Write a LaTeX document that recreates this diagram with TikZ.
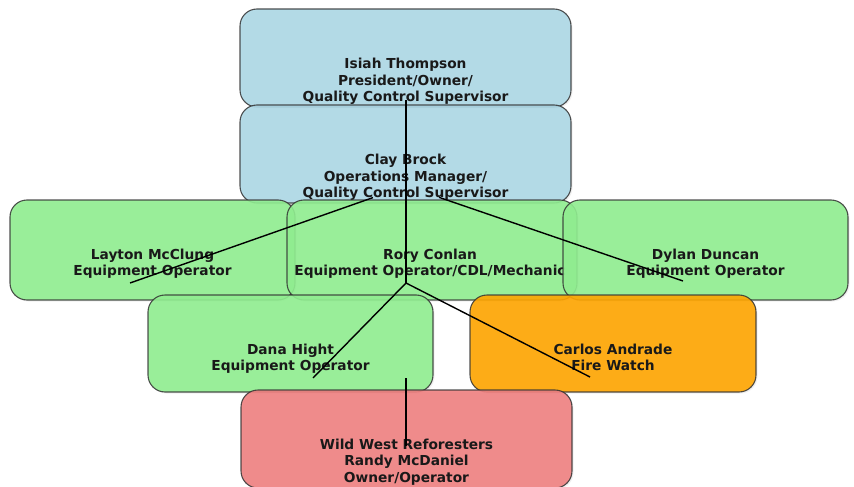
\documentclass[tikz,border=0pt]{standalone}
\usepackage{fontspec}
\setmainfont{DejaVu Sans}
\usetikzlibrary{positioning, shadows}

\definecolor{bosslight}{RGB}{173,216,230}
\definecolor{crewgreen}{RGB}{144,238,144}
\definecolor{watchorange}{RGB}{255,165,0}
\definecolor{subcoral}{RGB}{240,128,128}

\begin{document}
\begin{tikzpicture}[
    x=1pt, y=-1pt,
    font=\fontsize{13.75}{16.5}\selectfont\bfseries,
    % rounded box behind each name
    orgbox/.style={rectangle, draw=black!80, line width=1.1pt, rounded corners=17pt, fill opacity=0.9, draw opacity=0.85, minimum height=98pt, inner sep=0pt, drop shadow={opacity=0.12, shadow xshift=1.5pt, shadow yshift=-1.5pt}},
    namelabel/.style={align=center, anchor=north, inner sep=0pt, text=black!90},
    link/.style={line width=1.4pt, black}
]
\useasboundingbox (0,0) rectangle (854,487);

% top level
\node[orgbox, fill=bosslight, minimum width=331pt] (isiah) at (405.5,58) {};
\node[namelabel] (isiah-txt) at ([yshift=-49.5pt]isiah.north) {Isiah Thompson\\President/Owner/\\Quality Control Supervisor};

\node[orgbox, fill=bosslight, minimum width=331pt] (clay) at (405.5,154) {};
\node[namelabel] (clay-txt) at ([yshift=-49.5pt]clay.north) {Clay Brock\\Operations Manager/\\Quality Control Supervisor};

% crew row
\node[orgbox, fill=crewgreen, minimum width=285pt, minimum height=100pt] (layton) at (152.5,250) {};
\node[namelabel] (layton-txt) at ([yshift=-49pt]layton.north) {Layton McClung\\Equipment Operator};

\node[orgbox, fill=crewgreen, minimum width=290pt, minimum height=100pt] (rory) at (432,250) {};
\node[namelabel] (rory-txt) at ([xshift=-2pt, yshift=-49pt]rory.north) {Rory Conlan\\Equipment Operator/CDL/Mechanic};

\node[orgbox, fill=crewgreen, minimum width=285pt, minimum height=100pt] (dylan) at (705.5,250) {};
\node[namelabel] (dylan-txt) at ([yshift=-49pt]dylan.north) {Dylan Duncan\\Equipment Operator};

% second crew row
\node[orgbox, fill=crewgreen, minimum width=285pt, minimum height=97pt] (dana) at (290.5,343.5) {};
\node[namelabel] (dana-txt) at ([yshift=-49pt]dana.north) {Dana Hight\\Equipment Operator};

\node[orgbox, fill=watchorange, minimum width=286pt, minimum height=97pt] (carlos) at (613,343.5) {};
\node[namelabel] (carlos-txt) at ([yshift=-49pt]carlos.north) {Carlos Andrade\\Fire Watch};

% subcontractor
\node[orgbox, fill=subcoral, minimum width=331pt] (wild) at (406.5,439) {};
\node[namelabel] (wild-txt) at ([yshift=-49pt]wild.north) {Wild West Reforesters\\Randy McDaniel\\Owner/Operator};

% graph points
\coordinate (isiah-pt) at (406,100);
\coordinate (clay-pt) at (406,186);
\coordinate (rory-pt) at (406,283);
\coordinate (layton-pt) at (130,283);
\coordinate (dylan-pt) at (683,281);
\coordinate (dana-pt) at (313,378);
\coordinate (carlos-pt) at (590,377);
\coordinate (wild-top) at (406,378);
\coordinate (wild-pt) at (406,446);

% connectors
\draw[link] (isiah-pt) -- (clay-pt);
\draw[link] (clay-pt) -- (rory-pt);
\draw[link, shorten <=35pt] (clay-pt) -- (layton-pt);
\draw[link, shorten <=35pt] (clay-pt) -- (dylan-pt);
\draw[link] (rory-pt) -- (dana-pt);
\draw[link] (rory-pt) -- (carlos-pt);
\draw[link] (wild-top) -- (wild-pt);
\end{tikzpicture}
\end{document}
